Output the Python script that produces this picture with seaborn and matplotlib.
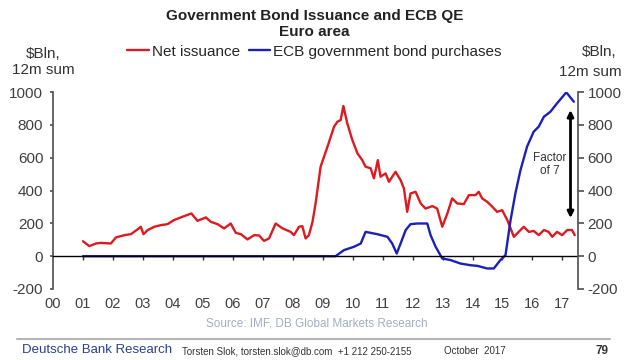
import pandas as pd
import matplotlib
matplotlib.use("Agg")
import matplotlib.pyplot as plt
import seaborn as sns

# ------------------------------------------------------------------
# Data, $Bln 12m sum
# ------------------------------------------------------------------
red_years = [2001.00, 2001.21, 2001.43, 2001.60, 2001.93, 2002.10, 2002.38, 2002.60,
             2002.82, 2002.93, 2003.02, 2003.16, 2003.38, 2003.60, 2003.82, 2004.04,
             2004.32, 2004.62, 2004.82, 2005.10, 2005.27, 2005.49, 2005.71, 2005.93,
             2006.10, 2006.27, 2006.49, 2006.71, 2006.88, 2007.04, 2007.21, 2007.43,
             2007.66, 2007.93, 2008.04, 2008.21, 2008.32, 2008.43, 2008.54, 2008.66,
             2008.77, 2008.93, 2009.16, 2009.38, 2009.49, 2009.60, 2009.69, 2009.82,
             2009.99, 2010.16, 2010.32, 2010.43, 2010.60, 2010.71, 2010.84, 2010.93,
             2011.10, 2011.21, 2011.43, 2011.60, 2011.71, 2011.82, 2011.93, 2012.10,
             2012.27, 2012.43, 2012.66, 2012.82, 2012.99, 2013.16, 2013.32, 2013.49,
             2013.71, 2013.88, 2014.10, 2014.21, 2014.32, 2014.49, 2014.66, 2014.82,
             2014.99, 2015.16, 2015.38, 2015.54, 2015.71, 2015.88, 2016.04, 2016.21,
             2016.38, 2016.54, 2016.66, 2016.82, 2016.99, 2017.16, 2017.32, 2017.41]
red_vals = [91, 61, 77, 81, 77, 114, 128, 134,
            163, 179, 134, 159, 179, 189, 195, 220,
            240, 260, 215, 236, 209, 195, 169, 199,
            142, 134, 102, 128, 126, 93, 108, 199,
            169, 148, 128, 179, 183, 108, 128, 209,
            330, 545, 667, 789, 819, 829, 915, 809,
            707, 626, 585, 545, 535, 474, 585, 484,
            504, 453, 514, 463, 413, 270, 382, 392,
            321, 290, 305, 290, 179, 260, 352, 321,
            317, 372, 372, 392, 352, 331, 301, 270,
            280, 220, 118, 148, 179, 148, 154, 128,
            159, 148, 118, 148, 128, 159, 159, 128]

blue_years = [2001.00, 2009.43, 2009.71, 2010.04, 2010.27, 2010.43, 2010.60, 2010.82,
              2011.16, 2011.32, 2011.47, 2011.60, 2011.77, 2011.93, 2012.16, 2012.49,
              2012.60, 2012.77, 2012.99, 2013.27, 2013.60, 2013.93, 2014.16, 2014.49,
              2014.71, 2014.93, 2015.10, 2015.27, 2015.43, 2015.60, 2015.82, 2016.04,
              2016.21, 2016.38, 2016.60, 2016.82, 2017.13, 2017.38]
blue_vals = [0, 0, 37, 57, 77, 148, 142, 134,
             118, 77, 16, 77, 159, 195, 199, 199,
             128, 57, -14, -24, -45, -55, -59, -75,
             -75, -24, 6, 220, 382, 524, 667, 758,
             789, 849, 880, 931, 998, 941]

series_names = ["Net issuance", "ECB government bond purchases"]
year_ticks = list(range(2000, 2018))
year_labels = [f"{y % 100:02d}" for y in year_ticks]
y_ticks = [-200, 0, 200, 400, 600, 800, 1000]

df = pd.concat([
    pd.DataFrame({"year": red_years, "value": red_vals, "series": series_names[0]}),
    pd.DataFrame({"year": blue_years, "value": blue_vals, "series": series_names[1]}),
])

# ------------------------------------------------------------------
# Plot
# ------------------------------------------------------------------
sns.set_theme(style="white")
plt.rcParams["font.family"] = ["Liberation Sans", "DejaVu Sans"]
plt.rcParams["axes.unicode_minus"] = False

fig = plt.figure(figsize=(6.24, 3.6), dpi=100)
ax = fig.add_axes([53 / 624, 1 - 289 / 360, 525 / 624, 197 / 360])

sns.lineplot(data=df, x="year", y="value", hue="series", palette=["#dc1a1f", "#1c20b8"],
             estimator=None, sort=False, linewidth=1.7, ax=ax)

ax.set_xlim(2000.0, 2017.52)
ax.set_ylim(-200, 1000)
ax.set_xlabel("")
ax.set_ylabel("")

# zero line with year ticks
ax.spines["bottom"].set_position(("data", 0))
ax.spines["bottom"].set_color("black")
ax.spines["bottom"].set_linewidth(1.0)
ax.spines["top"].set_visible(False)
ax.spines["right"].set_visible(False)
ax.spines["left"].set_color("#555555")
ax.set_xticks(year_ticks[1:])
ax.tick_params(axis="x", bottom=True, direction="out", length=3, width=1,
               color="#333333", labelbottom=False)
ax.set_yticks(y_ticks)
ax.tick_params(axis="y", left=True, length=2, color="#555555", labelsize=11,
               labelcolor="#404040", pad=5)

# year labels below the plot
sec = ax.secondary_xaxis(0)
sec.set_xticks(year_ticks)
sec.set_xticklabels(year_labels)
sec.tick_params(length=0, labelsize=10.5, labelcolor="#404040", pad=6)
sec.spines["bottom"].set_visible(False)

# right-hand axis (same scale)
ax2 = ax.twinx()
ax2.set_ylim(-200, 1000)
ax2.set_yticks(y_ticks)
for s in ["top", "bottom", "left"]:
    ax2.spines[s].set_visible(False)
ax2.spines["right"].set_color("#555555")
ax2.tick_params(axis="y", right=True, direction="out", length=4, color="#555555",
                labelsize=11, labelcolor="#404040", pad=3)
ax2.grid(False)

# legend at top
sns.move_legend(ax, "center", bbox_to_anchor=(0.504, 0.856), bbox_transform=fig.transFigure,
                ncol=2, frameon=False, title=None, fontsize=11, handlelength=1.4,
                handletextpad=0.2, columnspacing=0.6)

# annotation
ax.annotate("", xy=(2017.27, 890), xytext=(2017.27, 232),
            arrowprops=dict(arrowstyle="<|-|>", color="black", lw=2, mutation_scale=9,
                            shrinkA=0, shrinkB=0))
ax.text(2016.58, 558, "Factor\nof 7", ha="center", va="center", fontsize=8.5,
        color="#333333", linespacing=1.1)

# titles and axis captions
fig.text(0.504, 1 - 16 / 360, "Government Bond Issuance and ECB QE", ha="center",
         va="center", fontsize=11, fontweight="bold", color="#222222")
fig.text(0.504, 1 - 32 / 360, "Euro area", ha="center", va="center", fontsize=11,
         fontweight="bold", color="#222222")
fig.text(43 / 624, 1 - 62 / 360, "$Bln,\n12m sum", ha="center", va="center",
         fontsize=11, color="#333333", linespacing=1.25)
fig.text(599 / 624, 1 - 52 / 360, "$Bln,", ha="center", va="center",
         fontsize=11, color="#333333")
fig.text(622 / 624, 1 - 72 / 360, "12m sum", ha="right", va="center",
         fontsize=11, color="#333333")

# source and footer
fig.text(317 / 624, 1 - 324 / 360, "Source: IMF, DB Global Markets Research", ha="center",
         va="center", fontsize=8.5, color="#a3aec4")
fig.add_artist(plt.Line2D([17 / 624, 610 / 624], [1 - 339 / 360, 1 - 339 / 360],
                          color="#b5b5b5", lw=1.5))
fig.text(22 / 624, 1 - 350 / 360, "Deutsche Bank Research", ha="left", va="center",
         fontsize=9.5, color="#2a3f8f")
fig.text(182 / 624, 1 - 351 / 360, "Torsten Slok, torsten.slok@db.com  +1 212 250-2155",
         ha="left", va="center", fontsize=7, color="#333333")
fig.text(444 / 624, 1 - 351 / 360, "October  2017", ha="left", va="center",
         fontsize=7, color="#333333")
fig.text(608 / 624, 1 - 351 / 360, "79", ha="right", va="center", fontsize=8.5,
         fontweight="bold", color="#333333")

fig.savefig("out.png", dpi=100)
